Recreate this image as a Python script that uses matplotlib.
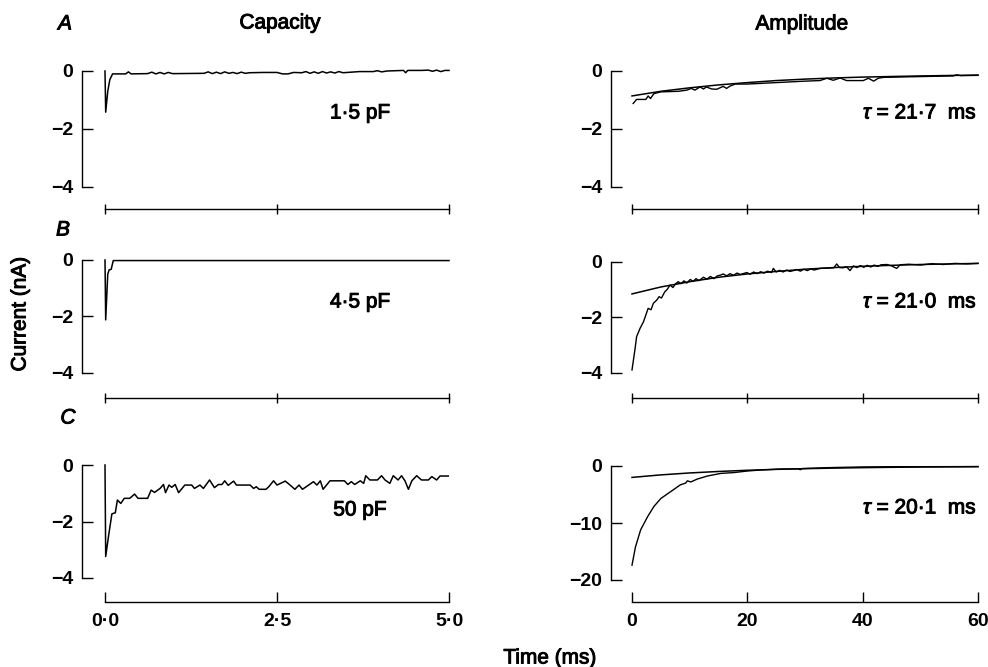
import matplotlib
matplotlib.use("Agg")
import matplotlib.pyplot as plt
import matplotlib.patheffects as pe

plt.rcParams['font.family'] = ['Liberation Sans', 'DejaVu Sans']
plt.rcParams['mathtext.fontset'] = 'custom'
plt.rcParams['mathtext.it'] = 'Liberation Sans:italic'
plt.rcParams['mathtext.rm'] = 'Liberation Sans'

#Datos: trazos de corriente (nA) frente al tiempo (ms)
#Columna izquierda: capacidad, 0-5 ms
cap_a_t = [0.0, 0.01, 0.04, 0.07, 0.11, 0.30, 0.34, 0.38, 0.62, 0.68,
           0.74, 0.80, 0.86, 0.92, 0.98, 1.02, 1.44, 1.50, 1.56, 1.62,
           1.68, 1.74, 1.80, 1.86, 1.92, 1.98, 2.04, 2.10, 2.30, 2.50,
           2.58, 2.66, 2.74, 2.86, 2.92, 2.98, 3.04, 3.10, 3.16, 3.22,
           3.28, 3.34, 3.40, 3.46, 3.70, 3.90, 3.96, 4.02, 4.10, 4.34,
           4.37, 4.40, 4.60, 4.70, 4.76, 4.82, 4.88, 4.94, 5.0]
cap_a_i = [0.0, -1.42, -0.70, -0.30, -0.10, -0.10, -0.03, -0.10, -0.09, -0.04,
           -0.10, -0.05, -0.10, -0.05, -0.09, -0.09, -0.08, -0.03, -0.09, -0.04,
           -0.09, -0.03, -0.08, -0.05, -0.09, -0.04, -0.08, -0.06, -0.05, -0.05,
           -0.10, -0.10, -0.05, -0.06, -0.02, -0.08, -0.03, -0.08, -0.02, -0.07,
           -0.03, -0.07, -0.02, -0.06, -0.02, -0.02, 0.01, -0.03, 0.0, 0.02,
           -0.06, 0.02, 0.02, 0.03, -0.01, 0.03, -0.02, 0.02, 0.02]

cap_b_t = [0.0, 0.01, 0.04, 0.06, 0.09, 0.12, 5.0]
cap_b_i = [0.0, -2.12, -0.50, -0.35, -0.33, -0.02, -0.02]

cap_c_t = [0.0, 0.01, 0.05, 0.10, 0.15, 0.18, 0.23, 0.28, 0.36, 0.43,
           0.48, 0.62, 0.67, 0.72, 0.80, 0.85, 0.88, 0.93, 0.97, 1.02,
           1.07, 1.16, 1.26, 1.30, 1.38, 1.43, 1.52, 1.59, 1.65, 1.70,
           1.74, 1.79, 1.87, 1.91, 2.11, 2.16, 2.20, 2.24, 2.34, 2.38,
           2.45, 2.50, 2.62, 2.69, 2.76, 2.82, 2.87, 2.96, 3.03, 3.08,
           3.13, 3.17, 3.27, 3.48, 3.53, 3.58, 3.63, 3.71, 3.76, 3.79,
           3.85, 3.96, 4.02, 4.07, 4.14, 4.19, 4.26, 4.31, 4.36, 4.41,
           4.46, 4.53, 4.60, 4.70, 4.75, 4.82, 4.87, 4.99]
cap_c_i = [0.0, -3.24, -2.54, -1.73, -1.69, -1.24, -1.36, -1.18, -1.18, -1.03,
           -1.18, -1.18, -0.89, -0.97, -0.83, -0.69, -0.98, -0.71, -0.79, -0.69,
           -0.98, -0.71, -0.71, -0.83, -0.71, -0.83, -0.53, -0.80, -0.69, -0.69,
           -0.56, -0.72, -0.57, -0.71, -0.71, -0.83, -0.77, -0.86, -0.86, -0.77,
           -0.56, -0.71, -0.57, -0.71, -0.86, -0.71, -0.86, -0.71, -0.59, -0.71,
           -0.56, -0.86, -0.56, -0.56, -0.69, -0.59, -0.69, -0.56, -0.65, -0.38,
           -0.53, -0.53, -0.38, -0.53, -0.65, -0.38, -0.53, -0.38, -0.56, -0.86,
           -0.56, -0.38, -0.53, -0.53, -0.41, -0.53, -0.39, -0.39]

#Columna derecha: amplitud, 0-60 ms, con ajuste exponencial
fit_t = [0, 5, 10, 15, 20, 25, 30, 35, 40, 45, 50, 55, 60]

amp_a_t = [0.2, 0.8, 2.4, 2.8, 3.2, 3.8, 5.0, 8.0, 9.5, 10.3,
           10.9, 11.8, 12.4, 12.9, 13.8, 14.7, 15.8, 16.4, 17.0, 17.9,
           20.0, 25.0, 30.0, 32.6, 33.8, 34.9, 36.1, 37.2, 38.4, 40.1,
           41.0, 41.9, 42.7, 43.6, 48.0, 55.7, 56.3, 57.0, 60.0]
amp_a_i = [-1.12, -0.98, -0.98, -0.86, -0.95, -0.78, -0.72, -0.70, -0.66, -0.60,
           -0.66, -0.55, -0.62, -0.55, -0.62, -0.63, -0.53, -0.60, -0.52, -0.45,
           -0.45, -0.40, -0.35, -0.33, -0.25, -0.32, -0.24, -0.33, -0.33, -0.33,
           -0.25, -0.35, -0.25, -0.22, -0.20, -0.17, -0.13, -0.16, -0.15]
amp_a_fit = [-0.86, -0.70, -0.58, -0.48, -0.40, -0.33, -0.28, -0.24, -0.21,
             -0.19, -0.17, -0.155, -0.14]

amp_b_t = [0.0, 0.5, 0.8, 1.4, 2.0, 2.5, 2.8, 3.3, 3.7, 4.3,
           4.7, 5.1, 5.7, 6.1, 6.6, 7.1, 7.5, 8.0, 8.5, 9.0,
           9.5, 10.1, 10.6, 11.1, 11.6, 12.4, 13.0, 13.6, 14.2, 14.8,
           15.4, 15.8, 16.4, 17.0, 17.6, 18.2, 18.8, 19.9, 20.5, 21.1,
           21.7, 22.3, 22.9, 23.5, 24.2, 24.5, 25.0, 25.6, 26.2, 26.8,
           27.4, 28.0, 28.6, 29.2, 29.8, 30.4, 31.0, 31.6, 32.6, 35.0,
           35.5, 36.0, 36.6, 37.2, 37.8, 38.4, 39.0, 39.6, 40.2, 40.8,
           41.4, 42.0, 42.6, 43.2, 44.2, 45.0, 45.9, 46.5, 48.0, 50.0,
           52.0, 54.0, 56.0, 58.0, 60.0]
amp_b_i = [-3.89, -3.17, -2.69, -2.39, -2.15, -1.85, -1.67, -1.72, -1.49, -1.37,
           -1.25, -1.30, -1.07, -0.99, -0.83, -0.92, -0.80, -0.71, -0.78, -0.68,
           -0.76, -0.63, -0.70, -0.60, -0.67, -0.55, -0.62, -0.52, -0.60, -0.50,
           -0.47, -0.43, -0.50, -0.42, -0.48, -0.40, -0.45, -0.38, -0.44, -0.36,
           -0.42, -0.35, -0.40, -0.33, -0.38, -0.23, -0.36, -0.30, -0.36, -0.29,
           -0.34, -0.31, -0.27, -0.33, -0.26, -0.31, -0.25, -0.29, -0.23, -0.21,
           -0.07, -0.20, -0.21, -0.17, -0.31, -0.14, -0.20, -0.13, -0.19, -0.12,
           -0.18, -0.11, -0.16, -0.10, -0.09, -0.14, -0.23, -0.10, -0.08, -0.11,
           -0.06, -0.09, -0.05, -0.07, -0.05]
amp_b_fit = [-1.15, -0.90, -0.71, -0.55, -0.43, -0.34, -0.26, -0.20, -0.155,
             -0.12, -0.09, -0.07, -0.05]

amp_c_t = [0.0, 0.6, 1.5, 2.7, 3.8, 5.0, 6.7, 8.4, 9.3, 9.6,
           10.2, 11.3, 13.1, 15.4, 17.7, 20.0, 22.3, 25.8, 28.8, 29.2,
           29.5, 33.9, 39.7, 45.4, 52.0, 60.0]
amp_c_i = [-17.4, -14.2, -11.2, -8.9, -7.1, -5.7, -4.5, -3.3, -3.0, -2.6,
           -2.8, -2.3, -1.75, -1.3, -1.15, -0.88, -0.70, -0.53, -0.50, -0.65,
           -0.45, -0.29, -0.17, -0.12, -0.12, -0.10]
amp_c_fit = [-2.0, -1.56, -1.22, -0.96, -0.75, -0.59, -0.47, -0.37, -0.29,
             -0.23, -0.18, -0.15, -0.12]

cap_labels = ['1·5 pF', '4·5 pF', '50 pF']
tau_labels = [r'$\tau$ = 21·7  ms', r'$\tau$ = 21·0  ms', r'$\tau$ = 20·1  ms']

cap_xticks = [0, 2.5, 5]
cap_xticklabels = ['0·0', '2·5', '5·0']
amp_xticks = [0, 20, 40, 60]
amp_xticklabels = ['0', '20', '40', '60']
small_yticks = [0, -2, -4]
small_yticklabels = ['0', '\u22122', '\u22124']
big_yticks = [0, -10, -20]
big_yticklabels = ['0', '\u221210', '\u221220']

W, H = 988, 667
fig = plt.figure(figsize=(W / 100, H / 100), dpi=100)

#Trazo fino para engrosar un poco el texto, como en la figura impresa
heavy = [pe.withStroke(linewidth=0.7, foreground='black')]


def place(box, xcal, ycal):
    #box en pixeles (izq, arriba, der, abajo); xcal/ycal: dos pares (pixel, valor)
    l, t, r, b = box
    ax = fig.add_axes([l / W, 1 - b / H, (r - l) / W, (b - t) / H])
    (px0, v0), (px1, v1) = xcal
    sx = (v1 - v0) / (px1 - px0)
    ax.set_xlim(v0 + (l - px0) * sx, v0 + (r - px0) * sx)
    (py0, w0), (py1, w1) = ycal
    sy = (w1 - w0) / (py1 - py0)
    ax.set_ylim(w0 + (b - py0) * sy, w0 + (t - py0) * sy)
    return ax


def style(ax, xticks, xticklabels, yticks, yticklabels, last):
    ax.spines['top'].set_visible(False)
    ax.spines['right'].set_visible(False)
    ax.spines['left'].set_bounds(yticks[-1], yticks[0])
    ax.spines['bottom'].set_bounds(xticks[0], xticks[-1])
    for s in ['left', 'bottom']:
        ax.spines[s].set_linewidth(1.0)
    ax.set_yticks(yticks)
    ax.set_yticklabels(yticklabels, fontsize=14, fontweight='bold')
    ax.tick_params(axis='y', direction='in', length=8, width=1.0, pad=6.5)
    ax.set_xticks(xticks)
    if last:
        ax.set_xticklabels(xticklabels, fontsize=14, fontweight='bold')
        ax.tick_params(axis='x', direction='in', length=7.5, width=1.0, pad=8)
    else:
        ax.tick_params(axis='x', direction='inout', length=7, width=1.0,
                       labelbottom=False)


left_cal = ((105, 0), (449, 5))
right_cal = ((632, 0), (978, 60))
rows = [
    (60, 209, ((71, 0), (187, -4)), ((71, 0), (187, -4))),
    (250, 398, ((260, 0), (373, -4)), ((262, 0), (373, -4))),
    (455, 602, ((465, 0), (578, -4)), ((466, 0), (580, -20))),
]
cap_data = [(cap_a_t, cap_a_i), (cap_b_t, cap_b_i), (cap_c_t, cap_c_i)]
amp_data = [(amp_a_t, amp_a_i, amp_a_fit), (amp_b_t, amp_b_i, amp_b_fit),
            (amp_c_t, amp_c_i, amp_c_fit)]

for k, (top, bot, lcal, rcal) in enumerate(rows):
    last = k == 2
    #Panel de capacidad
    ax = place((82, top, 455, bot), left_cal, lcal)
    t, i = cap_data[k]
    ax.plot(t, i, color='black', lw=1.1)
    style(ax, cap_xticks, cap_xticklabels, small_yticks, small_yticklabels, last)

    #Panel de amplitud
    ax2 = place((611, top, 982, bot), right_cal, rcal)
    t, i, f = amp_data[k]
    ax2.plot(t, i, color='black', lw=1.0)
    ax2.plot(fit_t, f, color='black', lw=1.1)
    yt = big_yticks if last else small_yticks
    ytl = big_yticklabels if last else small_yticklabels
    style(ax2, amp_xticks, amp_xticklabels, yt, ytl, last)


def ftext(x, y, s, **kw):
    fig.text(x / W, 1 - y / H, s, path_effects=heavy, **kw)


#Textos
ftext(65, 24, 'A', fontsize=15, style='italic', ha='center', va='center')
ftext(63, 230, 'B', fontsize=15, style='italic', ha='center', va='center')
ftext(68, 418, 'C', fontsize=15, style='italic', ha='center', va='center')
ftext(280, 23, 'Capacity', fontsize=15, ha='center', va='center')
ftext(802, 24, 'Amplitude', fontsize=15, ha='center', va='center')
ftext(20, 314, 'Current (nA)', fontsize=15, rotation=90, ha='center', va='center')
ftext(550, 658, 'Time (ms)', fontsize=15, ha='center', va='center')

for y, s in zip([113, 302, 510], cap_labels):
    ftext(360, y, s, fontsize=15, ha='center', va='center')
for y, s in zip([113, 302, 508], tau_labels):
    ftext(977, y, s, fontsize=15, ha='right', va='center')

plt.savefig('out.png', dpi=100)
